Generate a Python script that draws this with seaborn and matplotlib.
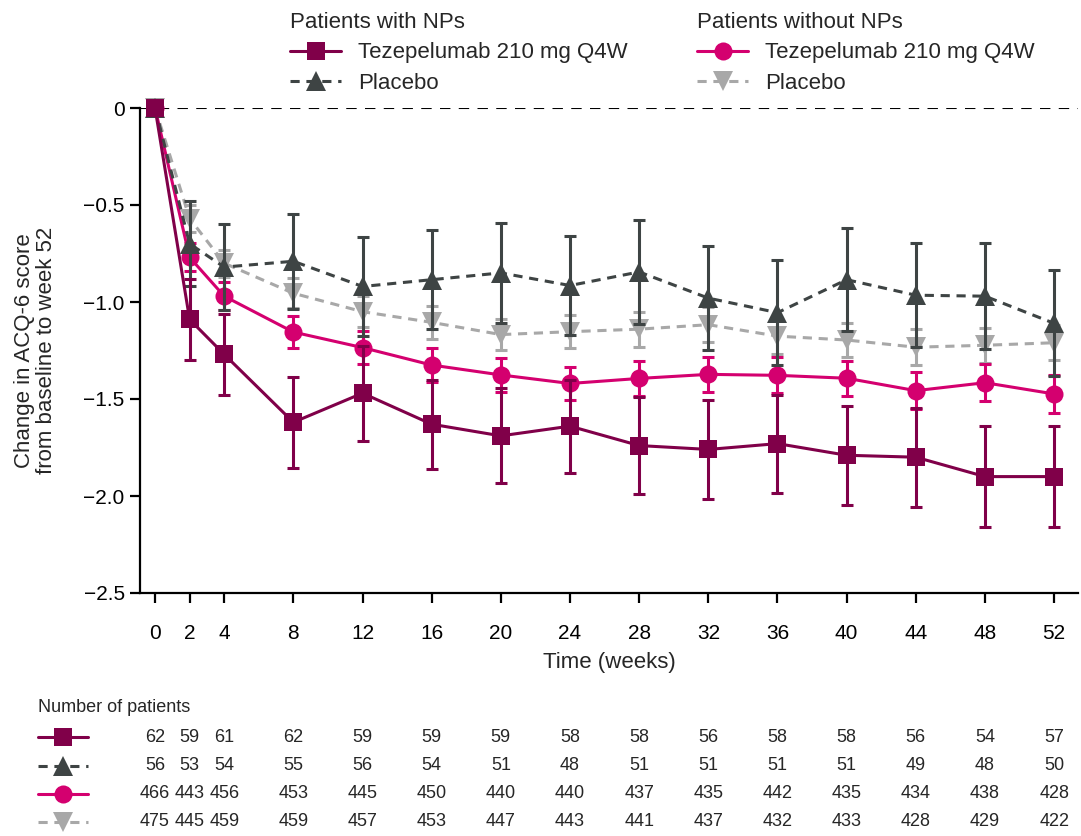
import numpy as np
import pandas as pd
import matplotlib
matplotlib.use("Agg")
import matplotlib.pyplot as plt
import seaborn as sns
from matplotlib.lines import Line2D
from matplotlib.transforms import blended_transform_factory

# ---------------- data ----------------
weeks = [0, 2, 4, 8, 12, 16, 20, 24, 28, 32, 36, 40, 44, 48, 52]

tez_np = [0, -1.09, -1.27, -1.62, -1.47, -1.63, -1.69, -1.64, -1.74, -1.76, -1.73, -1.79, -1.80, -1.90, -1.90]
tez_np_se = [0, 0.21, 0.21, 0.235, 0.245, 0.23, 0.245, 0.24, 0.25, 0.253, 0.253, 0.255, 0.255, 0.26, 0.26]

pbo_np = [0, -0.70, -0.82, -0.79, -0.92, -0.885, -0.85, -0.915, -0.845, -0.98, -1.055, -0.885, -0.965, -0.97, -1.11]
pbo_np_se = [0, 0.22, 0.22, 0.245, 0.257, 0.254, 0.259, 0.256, 0.267, 0.268, 0.272, 0.267, 0.268, 0.273, 0.273]

tez_nonp = [0, -0.77, -0.97, -1.155, -1.235, -1.325, -1.376, -1.42, -1.394, -1.373, -1.378, -1.393, -1.457, -1.416, -1.474]
tez_nonp_se = [0, 0.072, 0.073, 0.081, 0.086, 0.086, 0.086, 0.085, 0.09, 0.092, 0.093, 0.091, 0.094, 0.095, 0.097]

pbo_nonp = [0, -0.57, -0.80, -0.955, -1.05, -1.105, -1.168, -1.153, -1.14, -1.117, -1.176, -1.196, -1.233, -1.223, -1.21]
pbo_nonp_se = [0, 0.07, 0.07, 0.078, 0.08, 0.085, 0.08, 0.086, 0.09, 0.09, 0.092, 0.089, 0.092, 0.09, 0.09]

n_tez_np = [62, 59, 61, 62, 59, 59, 59, 58, 58, 56, 58, 58, 56, 54, 57]
n_pbo_np = [56, 53, 54, 55, 56, 54, 51, 48, 51, 51, 51, 51, 49, 48, 50]
n_tez_nonp = [466, 443, 456, 453, 445, 450, 440, 440, 437, 435, 442, 435, 434, 438, 428]
n_pbo_nonp = [475, 445, 459, 459, 457, 453, 447, 443, 441, 437, 432, 433, 428, 429, 422]

y_ticks = [0, -0.5, -1.0, -1.5, -2.0, -2.5]
y_ticklabels = ["0", "\u22120.5", "\u22121.0", "\u22121.5", "\u22122.0", "\u22122.5"]

group_titles = ["Patients with NPs", "Patients without NPs"]
arm_labels = ["Tezepelumab 210 mg Q4W", "Placebo"]

# ---------------- style ----------------
sns.set_style("ticks")
plt.rcParams['font.family'] = ['Liberation Sans', 'DejaVu Sans']

MAROON = "#800049"
MAGENTA = "#D4006F"
DARK = "#3E4444"
LIGHT = "#A8A8A8"
DASH = (0, (3, 2.2))
LW = 2.2

series = [
    dict(y=pbo_nonp, se=pbo_nonp_se, color=LIGHT, marker="v", ms=14, ls=DASH, z=3),
    dict(y=tez_nonp, se=tez_nonp_se, color=MAGENTA, marker="o", ms=13, ls="-", z=4),
    dict(y=pbo_np, se=pbo_np_se, color=DARK, marker="^", ms=14, ls=DASH, z=5),
    dict(y=tez_np, se=tez_np_se, color=MAROON, marker="s", ms=13.5, ls="-", z=6),
]

W, H = 1081, 836
fig = plt.figure(figsize=(W / 100, H / 100), dpi=100)
ax = fig.add_axes([140 / W, 1 - 593 / H, (1078 - 140) / W, (593 - 108) / H])

ax.axhline(0, color="black", lw=1.5, linestyle=(0, (5, 4)), zorder=1)

for s in series:
    ax.errorbar(weeks, s["y"], yerr=s["se"], fmt="none", ecolor=s["color"],
                elinewidth=LW, capsize=4.5, capthick=LW, clip_on=False, zorder=s["z"])
    df = pd.DataFrame({"week": weeks, "change": s["y"]})
    sns.lineplot(data=df, x="week", y="change", ax=ax, color=s["color"],
                 marker=s["marker"], markersize=s["ms"], markeredgewidth=0,
                 linewidth=LW, linestyle=s["ls"], errorbar=None, legend=False,
                 clip_on=False, zorder=s["z"] + 0.5)

ax.set_xlim(-0.87, 53.38)
ax.set_ylim(-2.5, 0)
ax.set_xticks(weeks)
ax.set_xticklabels([str(w) for w in weeks])
ax.set_yticks(y_ticks)
ax.set_yticklabels(y_ticklabels)
sns.despine(ax=ax)
for sp in ["left", "bottom"]:
    ax.spines[sp].set_linewidth(1.6)
    ax.spines[sp].set_color("black")
ax.tick_params(axis="both", direction="out", length=7, width=1.6, color="black",
               labelsize=15, labelcolor="black", pad=4)
ax.tick_params(axis="x", pad=15)
ax.set_xlabel("Time (weeks)", fontsize=16, labelpad=7)
ax.set_ylabel("Change in ACQ-6 score\nfrom baseline to week 52", fontsize=16,
              labelpad=19, linespacing=1.05)

# ---------------- legends ----------------
def handle(s):
    return Line2D([], [], color=s["color"], marker=s["marker"], markersize=s["ms"],
                  markeredgewidth=0, linewidth=LW, linestyle=s["ls"])

leg_kw = dict(loc="upper left", frameon=False, fontsize=16, title_fontsize=16,
              borderpad=0, borderaxespad=0, handlelength=2.3, handletextpad=0.75,
              labelspacing=0.42, alignment="left")
leg1 = fig.legend([handle(series[3]), handle(series[2])], arm_labels,
                  title=group_titles[0], bbox_to_anchor=(290 / W, 1 - 12 / H), **leg_kw)
leg2 = fig.legend([handle(series[1]), handle(series[0])], arm_labels,
                  title=group_titles[1], bbox_to_anchor=(697 / W, 1 - 12 / H), **leg_kw)

# ---------------- number at risk table ----------------
fig.text(38 / W, 1 - 707 / H, "Number of patients", fontsize=13, ha="left", va="center")
trans = blended_transform_factory(ax.transData, fig.transFigure)
rows = [(n_tez_np, series[3], 737), (n_pbo_np, series[2], 766),
        (n_tez_nonp, series[1], 794), (n_pbo_nonp, series[0], 822)]
for counts, s, ypx in rows:
    yf = 1 - ypx / H
    fig.add_artist(Line2D([38 / W, 88 / W], [yf, yf], transform=fig.transFigure,
                          color=s["color"], lw=LW, linestyle=s["ls"]))
    fig.add_artist(Line2D([63 / W], [yf], transform=fig.transFigure, color=s["color"],
                          marker=s["marker"], markersize=s["ms"], markeredgewidth=0,
                          linestyle="none"))
    for w, n in zip(weeks, counts):
        ax.text(w, yf, str(n), transform=trans, ha="center", va="center",
                fontsize=13, clip_on=False)

fig.savefig("out.png", dpi=100)
